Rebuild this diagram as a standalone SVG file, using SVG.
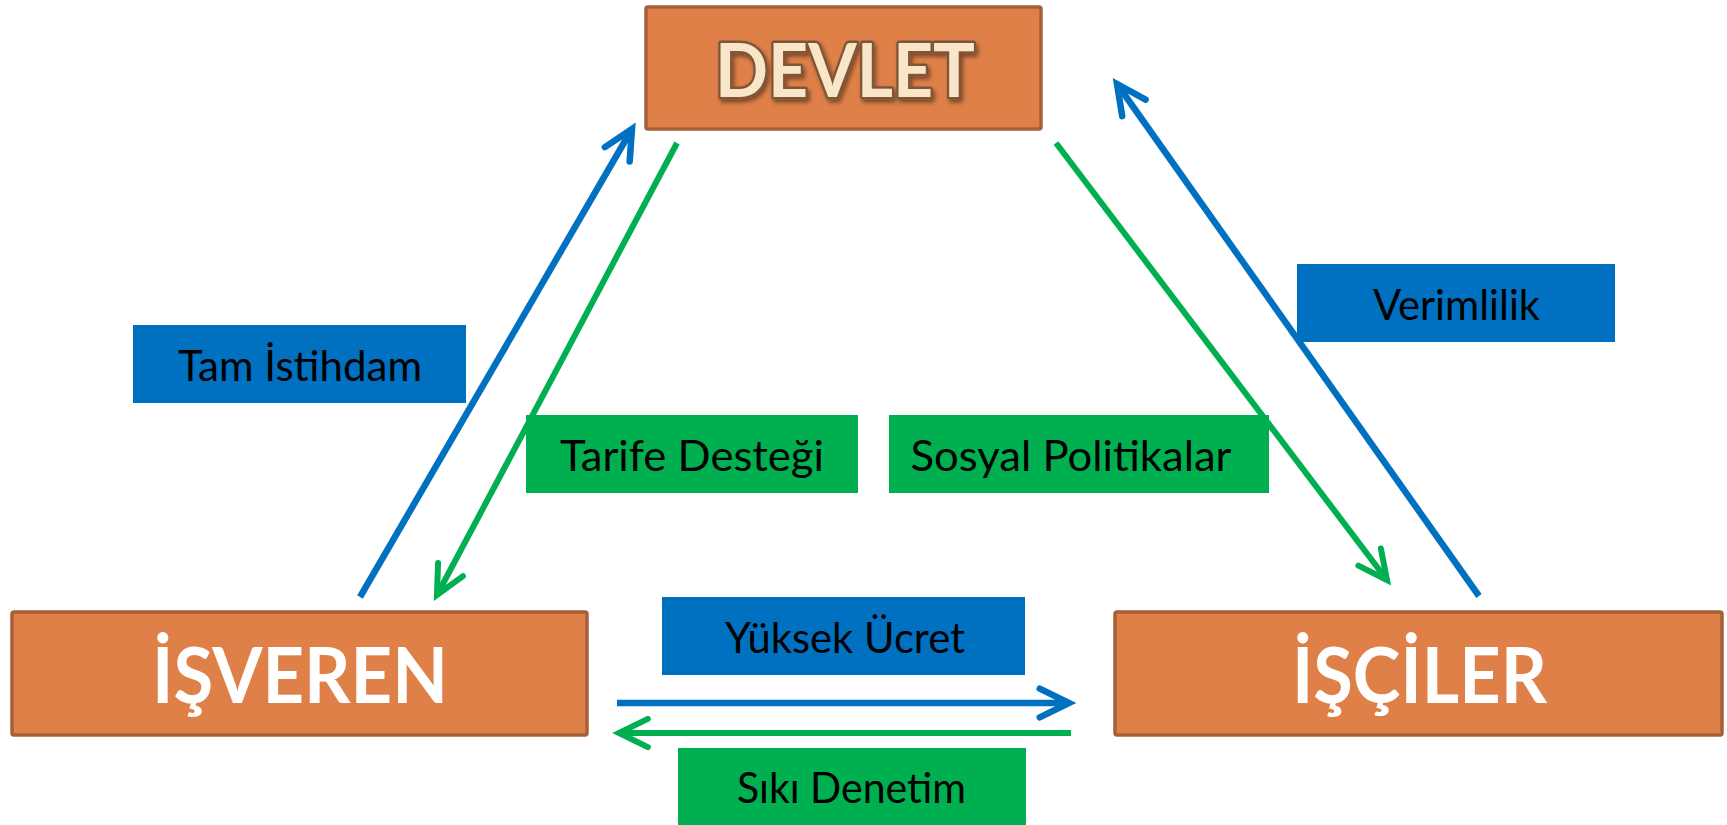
<svg xmlns="http://www.w3.org/2000/svg" width="1727" height="825" viewBox="0 0 1727 825">
<style>
.box{fill:#DE8048;stroke:#A5603A;stroke-width:3.5}
.big{font-family:"Lato","Liberation Sans",sans-serif;font-weight:bold;font-size:76px;fill:#FFFFFF;text-anchor:middle}
.dev{font-family:"Lato","Liberation Sans",sans-serif;font-weight:bold;font-size:75px;fill:#F9E6C8;stroke:#7F5539;stroke-width:5;paint-order:stroke;stroke-linejoin:round;text-anchor:middle}
.lb{fill:#0070C0}
.lg{fill:#00B050}
.lt{font-family:"Lato","Liberation Sans",sans-serif;font-size:42px;fill:#000000;text-anchor:middle}
.cb{stroke:#0070C0;stroke-width:6.5;fill:none}
.cg{stroke:#00B050;stroke-width:6;fill:none}
</style>
<defs>
<marker id="ab" viewBox="-8 -5 10 10" refX="0" refY="0" markerWidth="10" markerHeight="10" markerUnits="strokeWidth" orient="auto" overflow="visible">
<path d="M-4.5,-2.2 L0,0 L-4.5,2.2" fill="none" stroke="#0070C0" stroke-width="1" stroke-linecap="round" stroke-linejoin="miter"/>
</marker>
<marker id="ag" viewBox="-8 -5 10 10" refX="0" refY="0" markerWidth="10" markerHeight="10" markerUnits="strokeWidth" orient="auto" overflow="visible">
<path d="M-4.8,-2.35 L0,0 L-4.8,2.35" fill="none" stroke="#00B050" stroke-width="1" stroke-linecap="round" stroke-linejoin="miter"/>
</marker>
<filter id="sh" x="-10%" y="-20%" width="120%" height="150%">
<feDropShadow dx="2" dy="3" stdDeviation="2" flood-color="#000" flood-opacity="0.45"/>
</filter>
</defs>

<g id="connectors">
<line class="cb" x1="360" y1="597" x2="632" y2="129" marker-end="url(#ab)"/>
<line class="cg" x1="677" y1="143" x2="437" y2="595" marker-end="url(#ag)"/>
<line class="cg" x1="1056" y1="143" x2="1387" y2="580" marker-end="url(#ag)"/>
<line class="cb" x1="1479" y1="596" x2="1117" y2="84" marker-end="url(#ab)"/>
<line class="cb" x1="617" y1="703" x2="1069" y2="703" marker-end="url(#ab)"/>
<line class="cg" x1="1071" y1="733" x2="619" y2="733" marker-end="url(#ag)"/>
</g>

<g id="devlet">
<rect class="box" x="646" y="7" width="395" height="122" rx="2"/>
<text class="dev" x="845" y="97" textLength="260" lengthAdjust="spacingAndGlyphs" filter="url(#sh)">DEVLET</text>
</g>

<g id="isveren">
<rect class="box" x="12" y="612" width="575" height="123" rx="2"/>
<text class="big" x="300" y="703" textLength="296" lengthAdjust="spacingAndGlyphs">İŞVEREN</text>
</g>

<g id="isciler">
<rect class="box" x="1115" y="612" width="607" height="123" rx="2"/>
<text class="big" x="1419.5" y="703" textLength="255" lengthAdjust="spacingAndGlyphs">İŞÇİLER</text>
</g>

<g id="label-tam-istihdam">
<rect class="lb" x="133" y="325" width="333" height="78"/>
<text class="lt" x="300" y="381" textLength="244" lengthAdjust="spacingAndGlyphs">Tam İstihdam</text>
</g>

<g id="label-verimlilik">
<rect class="lb" x="1297" y="264" width="318" height="78"/>
<text class="lt" x="1456.5" y="320" textLength="167" lengthAdjust="spacingAndGlyphs">Verimlilik</text>
</g>

<g id="label-tarife-destegi">
<rect class="lg" x="526" y="415" width="332" height="78"/>
<text class="lt" x="692" y="471" textLength="264" lengthAdjust="spacingAndGlyphs">Tarife Desteği</text>
</g>

<g id="label-sosyal-politikalar">
<rect class="lg" x="889" y="415" width="380" height="78"/>
<text class="lt" x="1071" y="471" textLength="321" lengthAdjust="spacingAndGlyphs">Sosyal Politikalar</text>
</g>

<g id="label-yuksek-ucret">
<rect class="lb" x="662" y="597" width="363" height="78"/>
<text class="lt" x="845" y="653" textLength="240" lengthAdjust="spacingAndGlyphs">Yüksek Ücret</text>
</g>

<g id="label-siki-denetim">
<rect class="lg" x="678" y="748" width="348" height="77"/>
<text class="lt" x="851.5" y="803" textLength="229" lengthAdjust="spacingAndGlyphs">Sıkı Denetim</text>
</g>
</svg>
